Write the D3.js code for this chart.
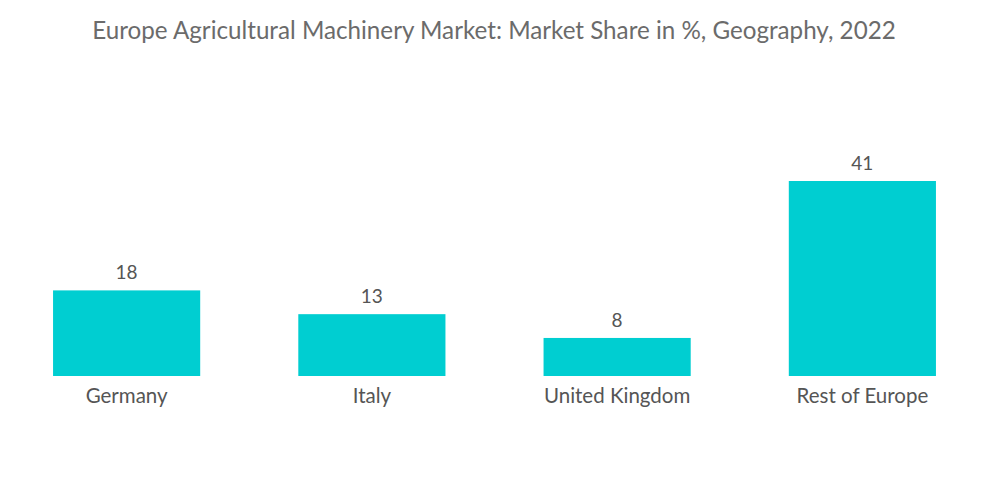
<!DOCTYPE html>
<html><head><meta charset="utf-8">
<script src="https://cdn.jsdelivr.net/npm/d3@7"></script>
<style>body{margin:0;background:#fff;}svg{display:block;font-family:Lato,"Open Sans",sans-serif;}</style>
</head><body>
<svg id="c" width="1000" height="504"></svg>
<script>
const categories = ["Germany", "Italy", "United Kingdom", "Rest of Europe"];
const values = [18, 13, 8, 41];
const title = "Europe Agricultural Machinery Market: Market Share in %, Geography, 2022";

const svg = d3.select("#c");
const baseY = 376;
const x = d3.scaleBand().domain(categories).range([4, 985]).paddingInner(0.4).paddingOuter(0.2);
const y = d3.scaleLinear().domain([0, 41]).range([baseY, 181]);

svg.append("text").attr("x", 494).attr("y", 39).attr("text-anchor", "middle")
  .attr("font-size", 24.2).attr("fill", "#6b6b6b").text(title);

const g = svg.append("g");
g.selectAll("rect").data(values).join("rect")
  .attr("x", (d, i) => x(categories[i])).attr("width", x.bandwidth())
  .attr("y", d => y(d)).attr("height", d => baseY - y(d)).attr("fill", "#00CED1");

g.selectAll("text.v").data(values).join("text").attr("class", "v")
  .attr("x", (d, i) => x(categories[i]) + x.bandwidth() / 2).attr("y", d => y(d) - 11)
  .attr("text-anchor", "middle").attr("font-size", 19).attr("fill", "#555").text(d => d);

const xAxis = d3.axisBottom(x).tickSize(0).tickPadding(12);
const ax = svg.append("g").attr("transform", `translate(0,${baseY})`).call(xAxis);
ax.select(".domain").remove();
ax.selectAll("text").attr("font-size", 20.5).attr("fill", "#555").attr("font-family", "Lato, 'Open Sans', sans-serif");
</script>
</body></html>
